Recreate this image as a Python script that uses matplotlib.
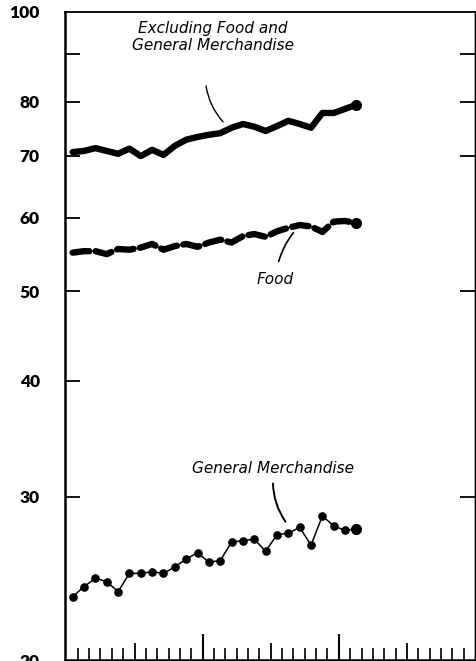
import numpy as np
import matplotlib
matplotlib.use("Agg")
import matplotlib.pyplot as plt
from matplotlib.ticker import FixedLocator, NullFormatter, NullLocator

# monthly index values, 26 months plotted on a 36-month axis
general_merch = [23.4, 24.0, 24.5, 24.3, 23.7, 24.8, 24.8, 24.9, 24.8, 25.2,
                 25.7, 26.1, 25.5, 25.6, 26.8, 26.9, 27.0, 26.2, 27.3, 27.4,
                 27.8, 26.6, 28.6, 27.9, 27.6, 27.7]
excl_food_gm = [70.6, 70.8, 71.3, 70.8, 70.3, 71.2, 69.9, 71.0, 70.1, 71.7,
                72.8, 73.3, 73.7, 74.0, 75.0, 75.7, 75.2, 74.4, 75.3, 76.3,
                75.7, 75.0, 77.8, 77.8, 78.6, 79.4]
food = [55.0, 55.2, 55.2, 54.8, 55.5, 55.4, 55.7, 56.2, 55.4, 55.9,
        56.2, 55.8, 56.4, 56.8, 56.4, 57.3, 57.6, 57.2, 58.0, 58.5,
        58.9, 58.7, 57.9, 59.4, 59.5, 59.2]
months = np.arange(len(general_merch)) + 0.55

ytick_vals = [20, 30, 40, 50, 60, 70, 80, 90, 100]
ytick_labels = ["20", "30", "40", "50", "60", "70", "80", "", "100"]

fig = plt.figure(figsize=(4.76, 6.61), dpi=100)
ax = fig.add_axes([0.136, 0.0015, 0.862, 0.9805])

# thick solid line
ax.plot(months, excl_food_gm, color="black", lw=4.6, solid_joinstyle="round",
        solid_capstyle="round")
ax.plot(months[-1], excl_food_gm[-1], "o", color="black", ms=7)

# thick dashed line
ax.plot(months, food, color="black", lw=4.6, dashes=(2.6, 1.0),
        dash_capstyle="round", dash_joinstyle="round")
ax.plot(months[-1], food[-1], "o", color="black", ms=7)

# thin line with dots
ax.plot(months, general_merch, color="black", lw=1.1, marker="o", ms=5.2)
ax.plot(months[-1], general_merch[-1], "o", color="black", ms=7)

ax.set_yscale("log")
ax.set_ylim(20, 100)
ax.set_xlim(-0.15, 36)

ax.yaxis.set_major_locator(FixedLocator(ytick_vals))
ax.yaxis.set_minor_locator(NullLocator())
ax.set_yticklabels(ytick_labels, fontsize=12.5, fontweight="heavy", family="Lato")
ax.tick_params(axis="y", which="major", direction="in", length=10.5, width=1.3,
               pad=18, left=True, right=False)
# no tick marks at the ends of the scale
for t, v in zip(ax.yaxis.get_major_ticks(), ytick_vals):
    if v in (20, 100):
        t.tick1line.set_visible(False)

# right side ticks
ax_r = ax.secondary_yaxis("right")
ax_r.yaxis.set_major_locator(FixedLocator([30, 50, 70, 80, 90]))
ax_r.yaxis.set_minor_locator(NullLocator())
ax_r.yaxis.set_major_formatter(NullFormatter())
ax_r.tick_params(axis="y", direction="in", length=10.5, width=1.3)
ax_r.spines["right"].set_linewidth(1.0)

# bottom month ticks
ax.xaxis.set_major_locator(FixedLocator([12, 24]))
ax.xaxis.set_minor_locator(FixedLocator([m for m in range(1, 36) if m % 6 != 0]))
ax.xaxis.set_major_formatter(NullFormatter())
ax.tick_params(axis="x", which="major", direction="in", length=19, width=1.5)
ax.tick_params(axis="x", which="minor", direction="in", length=8.5, width=1.2)
ax_b = ax.secondary_xaxis("bottom")
ax_b.xaxis.set_major_locator(FixedLocator([6, 18, 30]))
ax_b.xaxis.set_minor_locator(NullLocator())
ax_b.xaxis.set_major_formatter(NullFormatter())
ax_b.tick_params(axis="x", direction="in", length=12, width=1.3)

ax.spines["left"].set_linewidth(1.8)
ax.spines["bottom"].set_linewidth(1.8)
ax.spines["top"].set_linewidth(1.3)
ax.spines["right"].set_linewidth(1.0)

lab = dict(fontsize=11, style="italic", family="DejaVu Sans", ha="center", va="center")
ax.text(12.9, 94.0, "Excluding Food and\nGeneral Merchandise", linespacing=1.2, **lab)
ax.annotate("", xy=(13.8, 76.1), xytext=(12.3, 83.2),
            arrowprops=dict(arrowstyle="-", lw=1.0, color="black",
                            connectionstyle="arc3,rad=0.15", shrinkA=0, shrinkB=0))
ax.text(18.4, 51.5, "Food", **lab)
ax.annotate("", xy=(20.0, 57.8), xytext=(18.7, 53.8),
            arrowprops=dict(arrowstyle="-", lw=1.2, color="black",
                            connectionstyle="arc3,rad=-0.1", shrinkA=0, shrinkB=0))
ax.text(18.2, 32.2, "General Merchandise", **lab)
ax.annotate("", xy=(19.3, 28.2), xytext=(18.2, 31.0),
            arrowprops=dict(arrowstyle="-", lw=1.4, color="black",
                            connectionstyle="arc3,rad=0.15", shrinkA=0, shrinkB=0))

fig.savefig("out.png", dpi=100)
